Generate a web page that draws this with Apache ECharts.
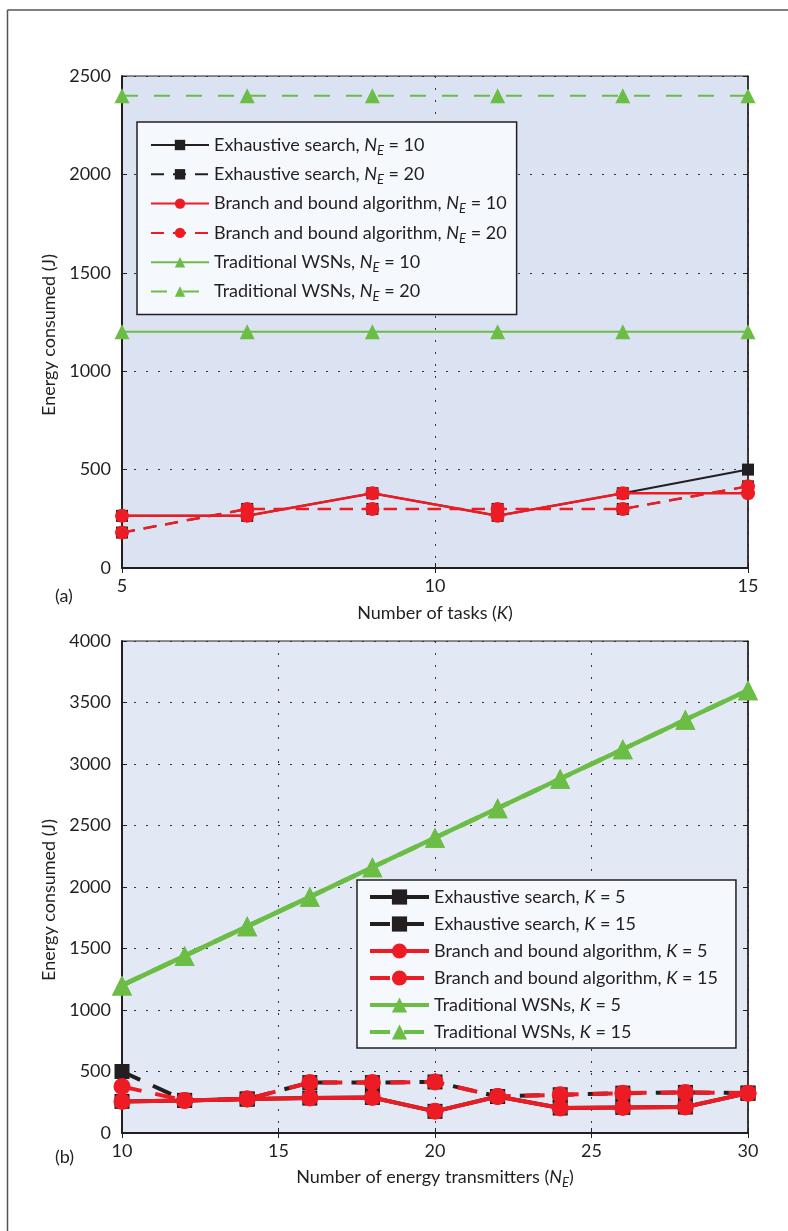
<!DOCTYPE html>
<html>
<head>
<meta charset="utf-8">
<script src="https://cdn.jsdelivr.net/npm/echarts@6/dist/echarts.min.js"></script>
<style>
html,body{margin:0;padding:0;background:#fff;}
#c{width:788px;height:1231px;}
</style>
</head>
<body>
<div id="c"></div>
<script>
// ---------- data: chart (a) ----------
const tasks = [5, 7, 9, 11, 13, 15];
const exhaustiveNE10 = [265, 265, 380, 265, 380, 500];
const exhaustiveNE20 = [180, 300, 300, 300, 300, 415];
const branchNE10 = [265, 265, 380, 265, 380, 380];
const branchNE20 = [180, 300, 300, 300, 300, 415];
const traditionalNE10 = [1200, 1200, 1200, 1200, 1200, 1200];
const traditionalNE20 = [2400, 2400, 2400, 2400, 2400, 2400];
const yTicksA = [0, 500, 1000, 1500, 2000, 2500];
const xTicksA = [5, 10, 15];

// ---------- data: chart (b) ----------
const transmitters = [10, 12, 14, 16, 18, 20, 22, 24, 26, 28, 30];
const exhaustiveK5 = [257, 265, 276, 284, 289, 176, 297, 203, 208, 211, 324];
const exhaustiveK15 = [500, 265, 276, 410, 410, 415, 297, 311, 324, 330, 324];
const branchK5 = [257, 265, 276, 284, 289, 176, 297, 203, 208, 211, 324];
const branchK15 = [378, 265, 276, 410, 410, 415, 297, 311, 324, 330, 324];
const traditionalK5 = [1200, 1440, 1680, 1920, 2160, 2400, 2640, 2880, 3120, 3360, 3600];
const traditionalK15 = [1200, 1440, 1680, 1920, 2160, 2400, 2640, 2880, 3120, 3360, 3600];
const yTicksB = [0, 500, 1000, 1500, 2000, 2500, 3000, 3500, 4000];
const xTicksB = [10, 15, 20, 25, 30];

// ---------- names ----------
const namesA = [
  'Exhaustive search, NE = 10', 'Exhaustive search, NE = 20',
  'Branch and bound algorithm, NE = 10', 'Branch and bound algorithm, NE = 20',
  'Traditional WSNs, NE = 10', 'Traditional WSNs, NE = 20'
];
const namesB = [
  'Exhaustive search, K = 5', 'Exhaustive search, K = 15',
  'Branch and bound algorithm, K = 5', 'Branch and bound algorithm, K = 15',
  'Traditional WSNs, K = 5', 'Traditional WSNs, K = 15'
];

const FONT = 'Lato, Roboto, "Liberation Sans", sans-serif';
const FS = 18;
const BLACK = '#231f20', RED = '#ed1c24', GREEN = '#6cbd45';

function pair(xs, ys) { return xs.map((x, i) => [x, ys[i]]); }
function fmtLegend(name) {
  return name.replace('NE', '{i|N}{s|E}').replace(/K =/, '{i|K} =');
}
const richText = (size, sub) => ({
  i: { fontFamily: FONT, fontSize: size, fontStyle: 'italic', color: BLACK },
  s: { fontFamily: FONT, fontSize: sub, fontStyle: 'italic', color: BLACK, lineHeight: sub, verticalAlign: 'bottom' }
});

const chart = echarts.init(document.getElementById('c'), null, { renderer: 'canvas' });

const gridA = { left: 122, top: 76, width: 626, height: 492 };
const gridB = { left: 122, top: 641, width: 626, height: 492 };

function xAxes(gridIndex, ticks, nameRich, nameGap) {
  return [{
    type: 'value', gridIndex, min: ticks[0], max: ticks[ticks.length - 1], interval: ticks[1] - ticks[0], position: 'bottom',
    name: nameRich, nameLocation: 'middle', nameGap,
    nameTextStyle: { fontFamily: FONT, fontSize: FS, color: BLACK, lineHeight: 24, rich: richText(FS, 13) },
    axisLine: { show: true, lineStyle: { color: BLACK, width: 2 } },
    axisTick: { show: true, inside: true, length: 5, lineStyle: { color: BLACK, width: 1 } },
    axisLabel: { fontFamily: FONT, fontSize: FS, color: BLACK, margin: 9, formatter: v => String(v) },
    splitLine: { show: true, lineStyle: { color: '#333', width: 1, type: [2, 10] } }
  }, {
    type: 'value', gridIndex, min: ticks[0], max: ticks[ticks.length - 1], interval: ticks[1] - ticks[0], position: 'top',
    axisLine: { show: true, lineStyle: { color: BLACK, width: 1.5 } },
    axisTick: { show: true, inside: true, length: 5, lineStyle: { color: BLACK, width: 1 } },
    axisLabel: { show: false }, splitLine: { show: false }
  }];
}
function yAxes(gridIndex, ticks) {
  const max = ticks[ticks.length - 1], iv = ticks[1] - ticks[0];
  return [{
    type: 'value', gridIndex, min: ticks[0], max, interval: iv, position: 'left',
    name: 'Energy consumed (J)', nameLocation: 'middle', nameGap: 54, nameRotate: 90,
    nameTextStyle: { fontFamily: FONT, fontSize: FS, color: BLACK, padding: [0, 26, 0, 0] },
    axisLine: { show: true, lineStyle: { color: BLACK, width: 2 } },
    axisTick: { show: true, inside: true, length: 5, lineStyle: { color: BLACK, width: 1 } },
    axisLabel: { fontFamily: FONT, fontSize: FS, color: BLACK, margin: 11, formatter: v => String(v) },
    splitLine: { show: true, lineStyle: { color: '#333', width: 1, type: [2, 10] } }
  }, {
    type: 'value', gridIndex, min: ticks[0], max, interval: iv, position: 'right',
    axisLine: { show: true, lineStyle: { color: BLACK, width: 1.5 } },
    axisTick: { show: true, inside: true, length: 5, lineStyle: { color: BLACK, width: 1 } },
    axisLabel: { show: false }, splitLine: { show: false }
  }];
}

function mk(name, xi, yi, xs, ys, color, symbol, size, width, dash) {
  return {
    name, type: 'line', xAxisIndex: xi, yAxisIndex: yi,
    data: pair(xs, ys), symbol, symbolSize: size, showSymbol: true,
    animation: false, silent: true, clip: false,
    lineStyle: { color, width, type: dash || 'solid' },
    itemStyle: { color, borderWidth: 0 }
  };
}

const series = [
  // chart (a)
  mk(namesA[5], 0, 0, tasks, traditionalNE20, GREEN, 'triangle', 15, 2, [16, 16]),
  mk(namesA[4], 0, 0, tasks, traditionalNE10, GREEN, 'triangle', 15, 2),
  mk(namesA[1], 0, 0, tasks, exhaustiveNE20, BLACK, 'rect', 12, 2, [13, 9]),
  mk(namesA[0], 0, 0, tasks, exhaustiveNE10, BLACK, 'rect', 12, 2),
  mk(namesA[3], 0, 0, tasks, branchNE20, RED, 'circle', 14, 2.5, [13, 9]),
  mk(namesA[2], 0, 0, tasks, branchNE10, RED, 'circle', 14, 2.5),
  // chart (b)
  mk(namesB[5], 2, 2, transmitters, traditionalK15, GREEN, 'triangle', 20, 4.5, [20, 14]),
  mk(namesB[4], 2, 2, transmitters, traditionalK5, GREEN, 'triangle', 20, 4.5),
  mk(namesB[1], 2, 2, transmitters, exhaustiveK15, BLACK, 'rect', 15, 4, [20, 14]),
  mk(namesB[0], 2, 2, transmitters, exhaustiveK5, BLACK, 'rect', 15, 4),
  mk(namesB[3], 2, 2, transmitters, branchK15, RED, 'circle', 17, 4, [20, 14]),
  mk(namesB[2], 2, 2, transmitters, branchK5, RED, 'circle', 17, 4)
];

function legend(data, left, top, pad, itemW, itemH, gap, size, sub, lw) {
  return {
    data, orient: 'vertical', left, top, padding: pad, itemGap: gap,
    itemWidth: itemW, itemHeight: itemH,
    backgroundColor: '#f5f8fc', borderColor: BLACK, borderWidth: 1.5, borderRadius: 0,
    selectedMode: false,
    lineStyle: { width: lw },
    formatter: fmtLegend,
    textStyle: { fontFamily: FONT, fontSize: size, color: BLACK, lineHeight: 24, rich: richText(size, sub) }
  };
}

chart.setOption({
  backgroundColor: '#ffffff',
  animation: false,
  grid: [
    Object.assign({ show: true, backgroundColor: '#dbe2f1', borderColor: BLACK, borderWidth: 1 }, gridA),
    Object.assign({ show: true, backgroundColor: '#e2e9f5', borderColor: BLACK, borderWidth: 1 }, gridB)
  ],
  xAxis: [
    ...xAxes(0, xTicksA, 'Number of tasks ({i|K})', 33),
    ...xAxes(1, xTicksB, 'Number of energy transmitters ({i|N}{s|E})', 32)
  ],
  yAxis: [...yAxes(0, yTicksA), ...yAxes(1, yTicksB)],
  legend: [
    legend(namesA, 137, 122, [11, 10, 11, 13], 58, 13, 5.3, FS, 13, 2),
    legend(namesB, 357, 880, [5, 18, 4, 11], 59, 19, 3, FS, 13, 4)
  ],
  series,
  graphic: [
    { type: 'line', shape: { x1: 7.5, y1: 10, x2: 788, y2: 10 }, style: { stroke: '#555', lineWidth: 1.5 }, silent: true },
    { type: 'line', shape: { x1: 7.5, y1: 10, x2: 7.5, y2: 1231 }, style: { stroke: '#555', lineWidth: 1.5 }, silent: true },
    { type: 'text', left: 55, top: 587, style: { text: '(a)', font: FS + 'px ' + FONT, fill: BLACK } },
    { type: 'text', left: 55, top: 1148, style: { text: '(b)', font: FS + 'px ' + FONT, fill: BLACK } }
  ]
});
</script>
</body>
</html>
